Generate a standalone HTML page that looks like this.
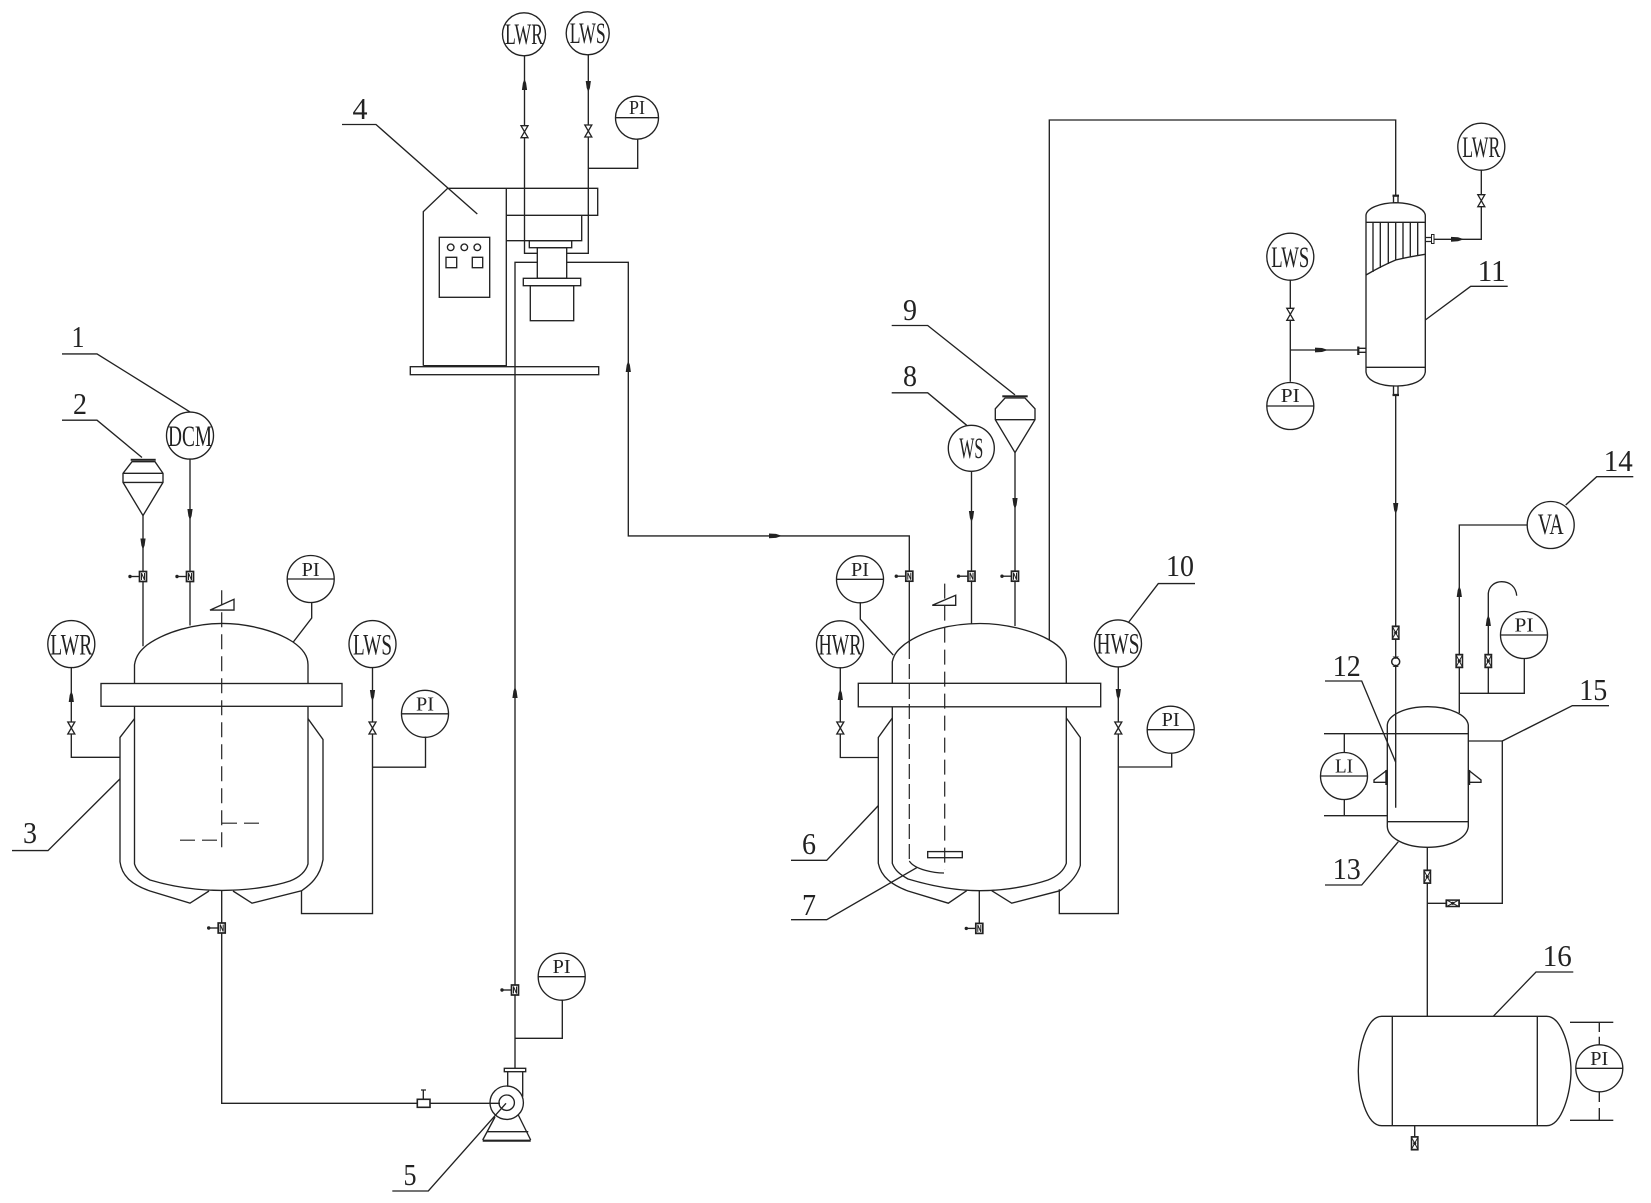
<!DOCTYPE html>
<html><head><meta charset="utf-8"><title>Process flow diagram</title>
<style>
html,body{margin:0;padding:0;background:#fff}
svg{display:block}
.l{fill:none;stroke:#222;stroke-width:1.35}
.d{fill:none;stroke:#222;stroke-width:1.2;stroke-dasharray:15 7}
text{font-family:"Liberation Serif","DejaVu Serif",serif;fill:#222;text-anchor:middle}
.n{font-size:31px}.i{font-size:30px}.p{font-size:20px}
</style></head><body>
<svg width="1651" height="1203" viewBox="0 0 1651 1203" xmlns="http://www.w3.org/2000/svg">
<defs>
<g id="g"><path class="l" d="M-13 0H-3.5"/><circle cx="-13" cy="0" r="1.7" fill="#222"/><rect x="-3.5" y="-5" width="7" height="10" fill="#fff" stroke="#222" stroke-width="1.7"/><path d="M-1.5 3.5V-3.5L1.5 3.5V-3.5" fill="none" stroke="#222" stroke-width="1"/></g>
<g id="v"><polygon points="-3.5,-6 3.5,-6 -3.5,6 3.5,6" fill="#fff" stroke="#222" stroke-width="1.3"/></g>
<g id="b"><rect x="-3.2" y="-6.5" width="6.4" height="13" fill="#fff" stroke="#222" stroke-width="1.5"/><polygon points="-3.2,-6 3.2,-6 -3.2,6 3.2,6" fill="#fff" stroke="#222" stroke-width="1"/><circle r="1.6" fill="#222"/></g>
<polygon id="au" points="-2.6,4 2.6,4 1.6,-3 0,-7 -1.6,-3" fill="#222"/>
<polygon id="ad" points="-2.6,-4 2.6,-4 1.6,3 0,7 -1.6,3" fill="#222"/>
<polygon id="ar" points="-6,-2.4 -6,2.4 1,2 7,0 1,-2" fill="#222"/>
</defs>

<!-- labels / leaders -->
<path class="l" d="M62 353.9H97L190 411.9M62 420.2H97L142 457.5M12 850.6H48L120 778.9"/>
<text class="n" x="78" y="347" textLength="13" lengthAdjust="spacingAndGlyphs">1</text>
<text class="n" x="80" y="414" textLength="14" lengthAdjust="spacingAndGlyphs">2</text>
<text class="n" x="30" y="843" textLength="14" lengthAdjust="spacingAndGlyphs">3</text>

<!-- funnel 2 -->
<path class="l" d="M132 461.7H155L163 473.3V482.4L143 515.6L123 482.4V473.3ZM123 473.3H163M123 482.4H163"/>
<rect x="130.7" y="458.8" width="25" height="2" fill="#222"/>
<!-- reactor 1 -->
<path class="l" d="M134.5 683.5V664.8C136 655 141 650 147 645C165 632 195 623.4 222 623.4C250 623.4 278 632 293 642C303 649 308 656 308 664.8V683.5"/>
<rect class="l" x="101" y="683.5" width="241" height="22.8"/>
<path class="l" d="M134.5 706.3V863.9C137 872 143 876 150 880C170 886 195 890.4 222 890.4C250 890.4 275 886 290 881C300 877 306 871 308 863.9V706.3"/>
<path class="l" d="M134.5 718.7L120 737.4V861.8C122 877 133 885 150 891L190 903.2L209 891M308 718.7L323 739.5V859.7C320 877 310 885 301.5 890.8L252 903.2L233 891"/>
<path class="d" d="M221.7 590.2V853.5M222 823.2H265M180 840.2H222"/>
<path class="l" d="M210 610.1L234 599.3V610.1Z"/>
<path class="l" d="M143 515.6V646.2M190 459V625.5M221.7 890.4V1103.3H490M71.3 667.7V757.3H120M372.5 667.7V913.6H301.5V890.8M425.5 736.6V767.2H372.5M311.7 602.7V618L293.3 642"/>
<use href="#ad" x="143" y="542.5"/><use href="#ad" x="190" y="513"/><use href="#g" x="143" y="576.5"/><use href="#g" x="190" y="576.5"/><use href="#g" x="221.7" y="928"/>
<use href="#au" x="71.3" y="698"/><use href="#v" x="71.3" y="728"/><use href="#ad" x="372.5" y="694"/><use href="#v" x="372.5" y="728"/>
<ellipse class="l" cx="190" cy="435.6" rx="23.5" ry="23.5"/><text class="i" x="190" y="446" textLength="44" lengthAdjust="spacingAndGlyphs">DCM</text>
<circle class="l" cx="71.3" cy="644.1" r="23.5"/><text class="i" x="71.3" y="654.5" textLength="42" lengthAdjust="spacingAndGlyphs">LWR</text>
<circle class="l" cx="372.5" cy="644.1" r="23.5"/><text class="i" x="372.5" y="654.5" textLength="39" lengthAdjust="spacingAndGlyphs">LWS</text>
<circle class="l" cx="310.7" cy="579" r="23.5"/><path class="l" d="M287.2 579H334.2"/><text class="p" x="310.7" y="576" textLength="18" lengthAdjust="spacingAndGlyphs">PI</text>
<circle class="l" cx="425" cy="713.8" r="23.5"/><path class="l" d="M401.5 713.8H448.5"/><text class="p" x="425" y="710.5" textLength="18" lengthAdjust="spacingAndGlyphs">PI</text>

<!-- centre unit 4 -->
<path class="l" d="M342 124.5H376L477.3 214M423.3 365.7V211.7L447.7 188.3H597.7V215.3H506.3M506.3 188.3V365.7H423.3M581.7 215.3V240.7H506.3"/>
<text class="n" x="360" y="119" textLength="15" lengthAdjust="spacingAndGlyphs">4</text>
<rect class="l" x="529.3" y="240.7" width="42.4" height="7"/>
<rect class="l" x="537.3" y="247.7" width="29.4" height="30.6"/>
<rect class="l" x="523.3" y="278.3" width="57.4" height="7.4"/>
<rect class="l" x="530.3" y="285.7" width="43.4" height="35"/>
<rect class="l" x="439.3" y="237.3" width="50.4" height="60"/>
<circle class="l" cx="450.7" cy="247.3" r="3.3"/><circle class="l" cx="464.3" cy="247.3" r="3.3"/><circle class="l" cx="477.3" cy="247.3" r="3.3"/>
<rect class="l" x="446" y="257.3" width="10.7" height="10.4"/><rect class="l" x="472.3" y="257.3" width="10.4" height="10.4"/>
<rect class="l" x="410.3" y="366.7" width="188.4" height="8"/>
<path class="l" d="M524.5 56V253.3H537.3M588.3 55V253.3H566.7M637.7 139V168.3H588.3M537.3 262.3H515V1068M566.7 262.3H628.3V535.9H909.3V644"/>
<path class="d" style="stroke-dasharray:15 5" d="M909.3 644V861"/>
<use href="#au" x="524.5" y="86"/><use href="#ad" x="588.3" y="85"/><use href="#v" x="524.5" y="131.7"/><use href="#v" x="588.3" y="131"/>
<use href="#au" x="628.3" y="368"/><use href="#ar" x="775" y="535.9"/><use href="#au" x="515" y="694"/>
<circle class="l" cx="524" cy="34.3" r="21.5"/><text class="i" x="524" y="44" textLength="38" lengthAdjust="spacingAndGlyphs">LWR</text>
<circle class="l" cx="587.7" cy="33.3" r="21.5"/><text class="i" x="587.7" y="43" textLength="36" lengthAdjust="spacingAndGlyphs">LWS</text>
<circle class="l" cx="637" cy="117.7" r="21.5"/><path class="l" d="M615.5 117.7H658.5"/><text class="p" x="637" y="114" textLength="16" lengthAdjust="spacingAndGlyphs">PI</text>

<!-- pump 5 -->
<use href="#g" x="515" y="990"/>
<circle class="l" cx="561.7" cy="976.7" r="23.5"/><path class="l" d="M538.2 976.7H585.2"/><text class="p" x="561.7" y="973" textLength="18" lengthAdjust="spacingAndGlyphs">PI</text>
<path class="l" d="M562.3 1000V1038.3H515"/>
<rect class="l" x="504.3" y="1068.3" width="21.4" height="3.4"/>
<path class="l" d="M507.7 1071.7V1086.7M522.7 1071.7V1096.7"/>
<circle class="l" cx="506.7" cy="1102.7" r="16.7" stroke-width="2"/><circle class="l" cx="506.7" cy="1102.7" r="7.7"/>
<path class="l" d="M490 1103.3H500M495 1117L482.7 1140M518.3 1115L530.7 1140M486.7 1131.7H528.3"/>
<path d="M482.7 1140.7H530.7" stroke="#222" stroke-width="2.2"/>
<rect x="417.3" y="1099.3" width="12.7" height="8" fill="#fff" stroke="#222" stroke-width="1.6"/>
<path class="l" d="M423.3 1090V1099M421 1090H426"/>
<path class="l" d="M392.3 1191H428.3L506 1103.3" stroke-width="1.7"/>
<text class="n" x="410" y="1185" textLength="13" lengthAdjust="spacingAndGlyphs">5</text>

<!-- reactor 2 -->
<path class="l" d="M891.7 325.5H927.7L1015 394.9M891.7 392.8H927.7L966.7 425.3M791 919.7H826.7L916.7 867.7M791 860.3H826.7L878.3 805.6M1195 583.6H1158.3L1128.3 622.6"/>
<text class="n" x="910" y="320" textLength="14" lengthAdjust="spacingAndGlyphs">9</text>
<text class="n" x="910" y="386" textLength="14" lengthAdjust="spacingAndGlyphs">8</text>
<text class="n" x="809" y="915" textLength="14" lengthAdjust="spacingAndGlyphs">7</text>
<text class="n" x="809" y="854" textLength="14" lengthAdjust="spacingAndGlyphs">6</text>
<text class="n" x="1180" y="576" textLength="28" lengthAdjust="spacingAndGlyphs">10</text>
<path class="l" d="M1005 398H1025L1035 408.8V419.7L1015 452.6L995.3 419.7V408.8ZM995.3 419.7H1035"/>
<rect x="1002.3" y="395.3" width="25.4" height="2" fill="#222"/>
<path class="l" d="M892.3 683.3V661.7C894 653 899 649 905 644C923 631 950 623.5 980 623.5C1006 623.5 1034 631 1049.3 640C1060 646 1066.3 653 1066.3 661.7V683.3"/>
<rect class="l" x="858.3" y="683.3" width="242.4" height="23.5"/>
<path class="l" d="M892.3 706.8V863.3C895 871 901 875 908 879C928 885 953 890.7 980 890.7C1008 890.7 1033 885 1048 880C1058 876 1064 870 1066.3 863.3V706.8"/>
<path class="l" d="M892.3 718L878.3 737.5V863.3C881 877 892 885 908 891L948.3 903.2L966.7 890.7M1066.3 718L1080.3 737.5V865.5C1077 877 1068 885 1060 890.7L1011.7 903.2L991.7 890.7"/>
<path class="d" d="M944.7 583.6V869.8"/>
<path class="d" style="stroke-dasharray:40 6" d="M909.3 861C915 870 935 873 944 873"/>
<path class="l" d="M932.3 605.3L955.7 595.3V605.3Z"/>
<rect class="l" x="927.7" y="851.6" width="34.6" height="6.1"/>
<path class="l" d="M1015 452.6V626M971.5 471V623.5M1049.3 640V120H1395.7V195M860.3 602.2V619.2L893.3 655.1M840.3 667.3V757.5H878.3M1118.3 667.3V913.6H1059.3V889.3M1171.7 752.7V767H1118.3M979.3 890.7V933"/>
<use href="#ad" x="1015" y="502"/><use href="#ad" x="971.5" y="515"/><use href="#g" x="1015" y="576.2"/><use href="#g" x="971.5" y="576.2"/><use href="#g" x="909.3" y="576.2"/><use href="#g" x="979.3" y="928.4"/>
<use href="#au" x="840.3" y="696"/><use href="#v" x="840.3" y="728"/><use href="#ad" x="1118.3" y="693"/><use href="#v" x="1118.3" y="728"/>
<circle class="l" cx="971.3" cy="448.3" r="23"/><text class="i" x="971.3" y="458" textLength="24" lengthAdjust="spacingAndGlyphs">WS</text>
<circle class="l" cx="840" cy="644.3" r="23.5"/><text class="i" x="840" y="654.5" textLength="43" lengthAdjust="spacingAndGlyphs">HWR</text>
<circle class="l" cx="1118" cy="643.4" r="23.5"/><text class="i" x="1118" y="653.5" textLength="43" lengthAdjust="spacingAndGlyphs">HWS</text>
<circle class="l" cx="860" cy="579.3" r="23.5"/><path class="l" d="M836.5 579.3H883.5"/><text class="p" x="860" y="576" textLength="18" lengthAdjust="spacingAndGlyphs">PI</text>
<circle class="l" cx="1170.7" cy="729.7" r="23.5"/><path class="l" d="M1147.2 729.7H1194.2"/><text class="p" x="1170.7" y="726" textLength="18" lengthAdjust="spacingAndGlyphs">PI</text>

<!-- condenser 11 -->
<path class="l" d="M1393.5 203V195.7M1398 203V195.7"/><path d="M1392.5 195.7H1399" stroke="#222" stroke-width="2.2"/>
<path class="l" d="M1366 222.3V215C1367 208 1380 203 1395.7 202.7C1412 203 1424 208 1425.3 215V222.3M1366 222.3H1425.3M1366 222.3V367.3M1425.3 222.3V367.3M1366 367.3H1425.3M1366 367.3V372C1367 381 1380 386 1395.7 386C1412 386 1424 381 1425.3 372V367.3"/>
<path class="l" d="M1366 275C1378 268 1386 264 1395.7 260C1408 257 1418 255.5 1425.3 254.3M1373 222.3V272M1380.3 222.3V268M1388.3 222.3V264M1395.7 222.3V260M1403 222.3V258M1410.3 222.3V256.5M1417.7 222.3V255.5"/>
<path class="l" d="M1393.5 386V394M1398 386V394M1395.7 395V807.7M1433.5 239.3H1481.3V170M1290.3 280V381.7M1290.3 350H1358.3"/>
<path class="l" d="M1425.3 237.5H1431.5M1425.3 241.5H1431.5M1358.5 348.3H1366M1358.5 352.3H1366"/>
<rect x="1431.5" y="234.5" width="2.5" height="9" fill="#fff" stroke="#222" stroke-width="1"/>
<path d="M1358.3 346.5V355M1392.5 395H1399" stroke="#222" stroke-width="2.2" fill="none"/>
<use href="#ar" x="1457" y="239.3"/><use href="#ar" x="1321" y="350"/><use href="#v" x="1481.3" y="200.7"/><use href="#v" x="1290.3" y="314.3"/>
<circle class="l" cx="1481.3" cy="146.7" r="23.5"/><text class="i" x="1481.3" y="157" textLength="38" lengthAdjust="spacingAndGlyphs">LWR</text>
<circle class="l" cx="1290.3" cy="256.7" r="23.5"/><text class="i" x="1290.3" y="267" textLength="38" lengthAdjust="spacingAndGlyphs">LWS</text>
<circle class="l" cx="1290.3" cy="406" r="23.5"/><path class="l" d="M1266.8 406H1313.8"/><text class="p" x="1290.3" y="402" textLength="19" lengthAdjust="spacingAndGlyphs">PI</text>
<path class="l" d="M1507.7 286.3H1470.7L1425.3 320"/>
<text class="n" x="1491.7" y="281" textLength="28" lengthAdjust="spacingAndGlyphs">11</text>

<!-- receiver 12-15 -->
<path class="l" d="M1387.3 826.7V725C1388 715 1405 706.7 1427.7 706.7C1450 706.7 1467 715 1468.3 725V826.7C1467 838 1450 847.3 1427.7 847.3C1405 847.3 1388 838 1387.3 826.7Z"/>
<path class="l" d="M1324 733.7H1468.3M1387.3 821.7H1468.3M1324 815.7H1387.3M1344.3 733.7V752M1344.3 800V815.7"/>
<path class="l" d="M1387.3 770L1374 780V782.3H1387.3M1468.3 770L1481 780V782.3H1468.3"/>
<path d="M1386.5 770V785M1469 770V785" stroke="#222" stroke-width="2.4"/>
<path class="l" d="M1527.3 525H1459.3V713M1459.3 693.3H1524.3V658.3M1488.3 693.3V593.3C1489 586 1495 581.7 1501.7 581.7C1510 581.7 1516 587 1516.7 595.7M1468.3 741H1502.3V903.3H1427.3M1427.3 847.3V1016.3"/>
<use href="#ad" x="1395.7" y="507"/><use href="#b" x="1395.7" y="632.7"/>
<circle cx="1395.7" cy="661.7" r="4" fill="#fff" stroke="#222" stroke-width="1.5"/><path d="M1392.5 656.5H1399L1395.7 659ZM1392.5 667H1399L1395.7 664.5Z" fill="#222"/>
<use href="#au" x="1459.3" y="593"/><use href="#b" x="1459.3" y="661"/><use href="#au" x="1488.3" y="622"/><use href="#b" x="1488.3" y="661"/><use href="#b" x="1427.3" y="876.7"/><use href="#b" transform="translate(1452.7 903.3) rotate(90)"/>
<circle class="l" cx="1344" cy="776" r="23.5"/><path class="l" d="M1320.5 776H1367.5"/><text class="p" x="1344" y="772.5" textLength="18" lengthAdjust="spacingAndGlyphs">LI</text>
<circle class="l" cx="1550.7" cy="525" r="23.5"/><text class="i" x="1550.7" y="534" textLength="26" lengthAdjust="spacingAndGlyphs">VA</text>
<circle class="l" cx="1524" cy="635" r="23.5"/><path class="l" d="M1500.5 635H1547.5"/><text class="p" x="1524" y="631.5" textLength="19" lengthAdjust="spacingAndGlyphs">PI</text>
<path class="l" d="M1325 681H1361.7L1395.7 762.3M1325 885H1361.7L1398.3 841.7M1633.3 476.7H1596.7L1565.7 505M1609 705.7H1572.3L1502.3 741"/>
<text class="n" x="1346.7" y="676" textLength="28" lengthAdjust="spacingAndGlyphs">12</text>
<text class="n" x="1346.7" y="879" textLength="28" lengthAdjust="spacingAndGlyphs">13</text>
<text class="n" x="1618.3" y="471" textLength="29" lengthAdjust="spacingAndGlyphs">14</text>
<text class="n" x="1593.3" y="700" textLength="28" lengthAdjust="spacingAndGlyphs">15</text>

<!-- tank 16 -->
<path class="l" d="M1381.7 1016.3H1546.7C1562 1016.3 1571 1050 1571 1071C1571 1092 1562 1125.7 1546.7 1125.7H1381.7C1366 1125.7 1358.3 1092 1358.3 1071C1358.3 1050 1366 1016.3 1381.7 1016.3ZM1392.3 1016.3V1125.7M1537.3 1016.3V1125.7"/>
<path class="l" d="M1414.7 1125.7V1137"/><use href="#b" x="1414.7" y="1143.3"/>
<path class="l" d="M1570 1022.3H1613.3M1570 1120.3H1613.3M1599.3 1022.3V1032M1599.3 1036.7V1045M1599.3 1092V1102M1599.3 1108V1120.3"/>
<circle class="l" cx="1599.3" cy="1068.3" r="23.5"/><path class="l" d="M1575.8 1068.3H1622.8"/><text class="p" x="1599.3" y="1065" textLength="18" lengthAdjust="spacingAndGlyphs">PI</text>
<path class="l" d="M1573.3 972H1536L1493.3 1016.3"/>
<text class="n" x="1557.3" y="966" textLength="29" lengthAdjust="spacingAndGlyphs">16</text>
</svg>
</body></html>
